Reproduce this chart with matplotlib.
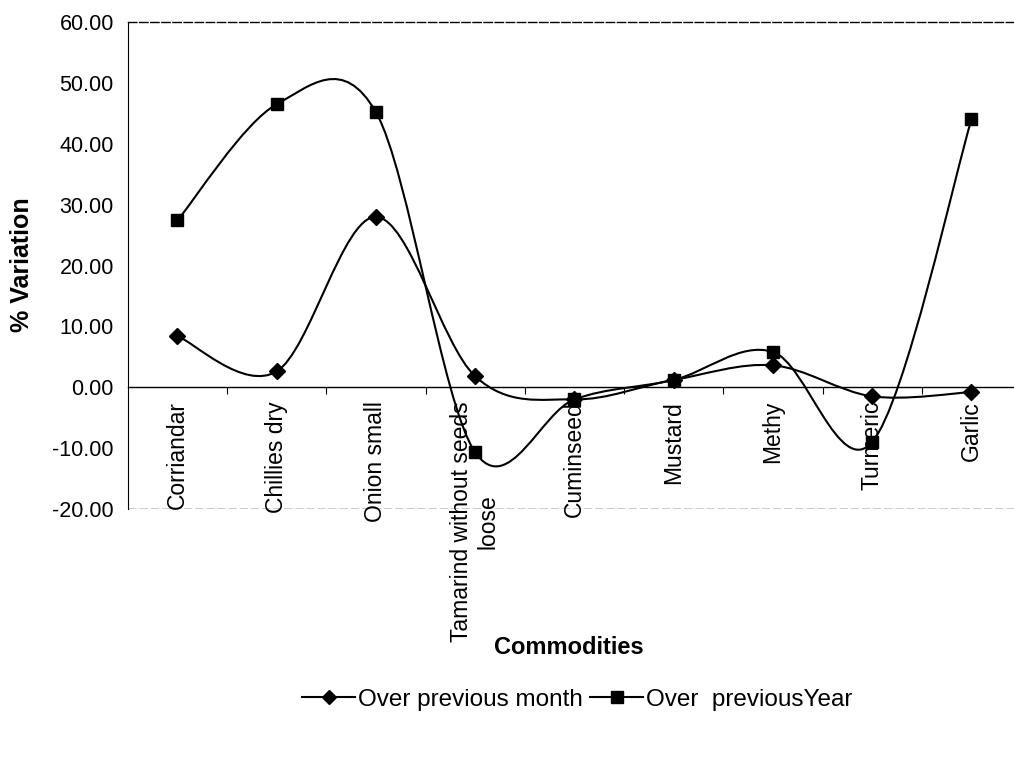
import numpy as np
import matplotlib
matplotlib.use("Agg")
import matplotlib.pyplot as plt
from matplotlib.path import Path
from matplotlib.patches import PathPatch
from matplotlib.lines import Line2D

plt.rcParams['font.family'] = ['Liberation Sans', 'DejaVu Sans']

# data
commodities = ['Corriandar', 'Chillies dry', 'Onion small', 'Tamarind without seeds\nloose',
               'Cuminseed', 'Mustard', 'Methy', 'Turmeric', 'Garlic']
over_month = [8.4, 2.6, 28.0, 1.8, -2.0, 1.2, 3.6, -1.5, -0.8]
over_year = [27.4, 46.5, 45.2, -10.7, -2.0, 1.2, 5.8, -9.0, 44.0]
yticks = [-20, -10, 0, 10, 20, 30, 40, 50, 60]


def smooth_path(xs, ys):
    # excel-like smoothed line: cubic bezier with catmull-rom control points
    pts = np.column_stack([xs, ys]).astype(float)
    n = len(pts)
    verts = [pts[0]]
    codes = [Path.MOVETO]
    for i in range(n - 1):
        p0 = pts[i - 1] if i > 0 else pts[i]
        p1 = pts[i]
        p2 = pts[i + 1]
        p3 = pts[i + 2] if i + 2 < n else pts[i + 1]
        c1 = p1 + (p2 - p0) / 6.0
        c2 = p2 - (p3 - p1) / 6.0
        verts += [c1, c2, p2]
        codes += [Path.CURVE4] * 3
    return Path(verts, codes)


fig = plt.figure(figsize=(10.14, 7.63), dpi=100)
ax = fig.add_axes([0.126, 0.333, 0.881, 0.638])

x = np.arange(len(commodities))

for vals, mk, ms in [(over_month, 'D', 8), (over_year, 's', 9)]:
    ax.add_patch(PathPatch(smooth_path(x, vals), fill=False, edgecolor='black', lw=1.5, zorder=3))
    ax.plot(x, vals, linestyle='none', marker=mk, markersize=ms, color='black', zorder=4)

ax.set_xlim(-0.5, len(commodities) - 0.5)
ax.set_ylim(-20, 60)
ax.set_yticks(yticks)
ax.set_yticklabels(['%.2f' % v for v in yticks], fontsize=15.5)
ax.tick_params(axis='y', length=0, pad=10)

# category axis sits at zero
ax.spines['bottom'].set_position(('data', 0))
ax.spines['bottom'].set_linewidth(1.0)
ax.set_xticks(np.arange(len(commodities) - 1) + 0.5)
ax.set_xticklabels([])
ax.tick_params(axis='x', direction='out', length=5)
ax.axhline(-20, color='black', lw=1.0, ls=(0, (6, 2)))
for s in ['top', 'right']:
    ax.spines[s].set_linestyle((0, (6, 2)))
    ax.spines[s].set_linewidth(1.0)

for i, lab in enumerate(commodities):
    ax.annotate(lab, xy=(i, 0), xytext=(0, -10), textcoords='offset points',
                rotation=90, ha='center', va='top', fontsize=16.5, multialignment='center')

fig.text(0.561, 0.151, 'Commodities', ha='center', va='center', fontsize=17, fontweight='bold')
fig.text(0.022, 0.653, '% Variation', ha='center', va='center', rotation=90,
         fontsize=18, fontweight='bold')

handles = [Line2D([], [], color='black', lw=1.5, marker='D', markersize=7),
           Line2D([], [], color='black', lw=1.5, marker='s', markersize=8)]
fig.legend(handles, ['Over previous month', 'Over  previousYear'], loc='center',
           bbox_to_anchor=(0.569, 0.083), ncol=2, frameon=False, fontsize=17.5,
           handlelength=2.2, handletextpad=0.1, columnspacing=0.3)

fig.savefig('out.png', dpi=100)
